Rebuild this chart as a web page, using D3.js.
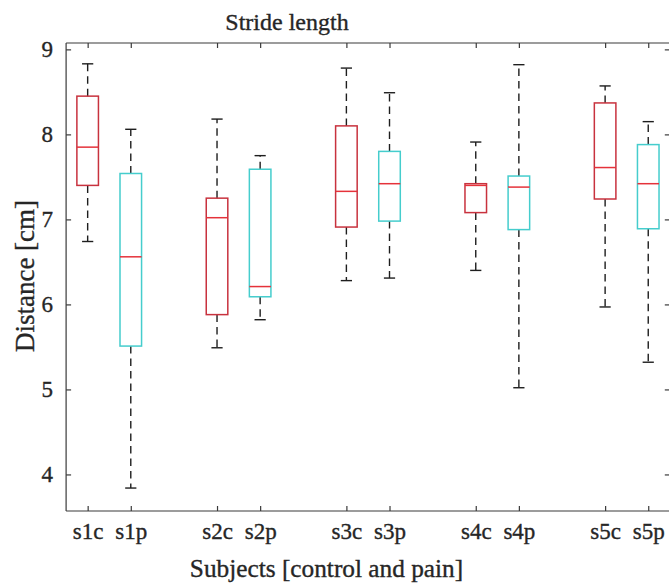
<!DOCTYPE html>
<html>
<head>
<meta charset="utf-8">
<script src="https://cdn.jsdelivr.net/npm/d3@7"></script>
<style>
  html, body { margin: 0; padding: 0; background: #fff; }
  svg { display: block; }
  text { font-family: "Liberation Serif", "Times New Roman", serif; fill: #262626; stroke: #262626; stroke-width: 0.35px; }
</style>
</head>
<body>
<svg id="chart" width="669" height="584"></svg>
<script>
// Stride length per subject: control (c) and pain (p) conditions
const categories    = ["s1c", "s1p", "s2c", "s2p", "s3c", "s3p", "s4c", "s4p", "s5c", "s5p"];
const positions     = [1, 2, 4, 5, 7, 8, 10, 11, 13, 14];
const groups        = ["control", "pain", "control", "pain", "control", "pain", "control", "pain", "control", "pain"];
const lowerWhisker  = [6.74, 3.84, 5.49, 5.82, 6.28, 6.31, 6.40, 5.02, 5.97, 5.32];
const q1            = [7.40, 5.51, 5.88, 6.09, 6.91, 6.98, 7.08, 6.88, 7.24, 6.89];
const medians       = [7.85, 6.56, 7.02, 6.21, 7.33, 7.42, 7.40, 7.38, 7.61, 7.42];
const q3            = [8.45, 7.54, 7.25, 7.59, 8.10, 7.80, 7.42, 7.51, 8.37, 7.88];
const upperWhisker  = [8.83, 8.06, 8.18, 7.75, 8.78, 8.49, 7.91, 8.82, 8.57, 8.15];
const yTicks        = [4, 5, 6, 7, 8, 9];

const boxColor = { control: "#c8323e", pain: "#45cdcd" };
const medianColor = "#e5323a";

const svg = d3.select("#chart");
const plot = { left: 66.1, right: 669.8, top: 43, bottom: 511 };

const x = d3.scaleLinear().domain([0.5, 14.5]).range([plot.left, plot.right]);
const y = d3.scaleLinear().domain([3.57, 9.075]).range([plot.bottom, plot.top]);
const unit = x(1) - x(0);
const boxW = 0.5 * unit;
const capW = 0.26 * unit;

const axisColor = "#3a3a3a";

// Axes box (left, top, bottom, right)
const frame = svg.append("g").attr("stroke", axisColor).attr("stroke-width", 1.2).attr("fill", "none");
frame.append("line").attr("x1", plot.left).attr("x2", plot.left).attr("y1", plot.top).attr("y2", plot.bottom);
frame.append("line").attr("x1", plot.right).attr("x2", plot.right).attr("y1", plot.top).attr("y2", plot.bottom);
frame.append("line").attr("x1", plot.left).attr("x2", plot.right).attr("y1", plot.top).attr("y2", plot.top);
frame.append("line").attr("x1", plot.left).attr("x2", plot.right).attr("y1", plot.bottom).attr("y2", plot.bottom);

// Left axis with inward ticks
const yAxis = d3.axisLeft(y).tickValues(yTicks).tickFormat(d3.format("d"))
  .tickSizeInner(-5).tickSizeOuter(0).tickPadding(13);
const gy = svg.append("g").attr("transform", `translate(${plot.left},0)`).call(yAxis);
gy.select(".domain").remove();
gy.selectAll(".tick line").attr("stroke", axisColor).attr("stroke-width", 1.2);
gy.selectAll(".tick text").attr("font-size", 23).attr("fill", "#262626")
  .style("font-family", "'Liberation Serif', serif");

// Right axis ticks (mirrored)
const gyr = svg.append("g").attr("transform", `translate(${plot.right},0)`)
  .call(d3.axisRight(y).tickValues(yTicks).tickSizeInner(-5).tickSizeOuter(0).tickFormat(""));
gyr.select(".domain").remove();
gyr.selectAll(".tick line").attr("stroke", axisColor).attr("stroke-width", 1.2);

// Bottom axis with category labels
const xAxis = d3.axisBottom(x).tickValues(positions)
  .tickFormat((d, i) => categories[i]).tickSizeInner(-5).tickSizeOuter(0).tickPadding(12);
const gx = svg.append("g").attr("transform", `translate(0,${plot.bottom})`).call(xAxis);
gx.select(".domain").remove();
gx.selectAll(".tick line").attr("stroke", axisColor).attr("stroke-width", 1.2);
gx.selectAll(".tick text").attr("font-size", 23).attr("fill", "#262626")
  .style("font-family", "'Liberation Serif', serif");

// Top axis ticks
const gxt = svg.append("g").attr("transform", `translate(0,${plot.top})`)
  .call(d3.axisTop(x).tickValues(positions).tickSizeInner(-5).tickSizeOuter(0).tickFormat(""));
gxt.select(".domain").remove();
gxt.selectAll(".tick line").attr("stroke", axisColor).attr("stroke-width", 1.2);

// Box plots
const data = categories.map((c, i) => ({
  name: c, pos: positions[i], group: groups[i],
  lo: lowerWhisker[i], q1: q1[i], med: medians[i], q3: q3[i], hi: upperWhisker[i]
}));

const boxes = svg.append("g").selectAll("g.box").data(data).join("g").attr("class", "box");

// Dashed whiskers
boxes.append("line")
  .attr("x1", d => x(d.pos)).attr("x2", d => x(d.pos))
  .attr("y1", d => y(d.q3)).attr("y2", d => y(d.hi))
  .attr("stroke", "#1e1e1e").attr("stroke-width", 1.4).attr("stroke-dasharray", "7.5,5");
boxes.append("line")
  .attr("x1", d => x(d.pos)).attr("x2", d => x(d.pos))
  .attr("y1", d => y(d.q1)).attr("y2", d => y(d.lo))
  .attr("stroke", "#1e1e1e").attr("stroke-width", 1.4).attr("stroke-dasharray", "7.5,5");

// Whisker caps
boxes.append("line")
  .attr("x1", d => x(d.pos) - capW / 2).attr("x2", d => x(d.pos) + capW / 2)
  .attr("y1", d => y(d.hi)).attr("y2", d => y(d.hi))
  .attr("stroke", "#1e1e1e").attr("stroke-width", 1.4);
boxes.append("line")
  .attr("x1", d => x(d.pos) - capW / 2).attr("x2", d => x(d.pos) + capW / 2)
  .attr("y1", d => y(d.lo)).attr("y2", d => y(d.lo))
  .attr("stroke", "#1e1e1e").attr("stroke-width", 1.4);

// Interquartile boxes
boxes.append("rect")
  .attr("x", d => x(d.pos) - boxW / 2).attr("width", boxW)
  .attr("y", d => y(d.q3)).attr("height", d => y(d.q1) - y(d.q3))
  .attr("fill", "none").attr("stroke", d => boxColor[d.group]).attr("stroke-width", 1.5);

// Medians
boxes.append("line")
  .attr("x1", d => x(d.pos) - boxW / 2).attr("x2", d => x(d.pos) + boxW / 2)
  .attr("y1", d => y(d.med)).attr("y2", d => y(d.med))
  .attr("stroke", medianColor).attr("stroke-width", 1.5);

// Titles
svg.append("text").attr("x", 287).attr("y", 29.5).attr("text-anchor", "middle")
  .attr("font-size", 24).text("Stride length");
svg.append("text").attr("x", 326.5).attr("y", 577).attr("text-anchor", "middle")
  .attr("font-size", 25.3).text("Subjects [control and pain]");
svg.append("text").attr("transform", "translate(34,276) rotate(-90)").attr("text-anchor", "middle")
  .attr("font-size", 27).text("Distance [cm]");
</script>
</body>
</html>
